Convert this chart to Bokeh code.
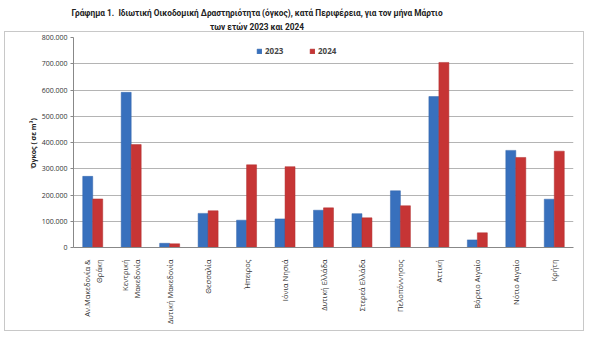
from bokeh.plotting import figure
from bokeh.models import ColumnDataSource, FixedTicker, Legend, LegendItem, Div
from bokeh.layouts import column
from bokeh.transform import dodge
from bokeh.embed import file_html
from bokeh.resources import INLINE
import math

regions = ["Αν.Μακεδονία &\nΘράκη", "Κεντρική\nΜακεδονία", "Δυτική Μακεδονία", "Θεσσαλία",
           "Ήπειρος", "Ιόνια Νησιά", "Δυτική Ελλάδα", "Στερεά Ελλάδα", "Πελοπόννησος",
           "Αττική", "Βόρειο Αιγαίο", "Νότιο Αιγαίο", "Κρήτη"]
v2023 = [271000, 591000, 16000, 130000, 104000, 109000, 142000, 129000, 216000, 575000, 29000, 370000, 184000]
v2024 = [185000, 392000, 14000, 140000, 315000, 308000, 151000, 113000, 159000, 705000, 56000, 343000, 367000]
y_ticks = [0, 100000, 200000, 300000, 400000, 500000, 600000, 700000, 800000]

src = ColumnDataSource(dict(region=regions, a=v2023, b=v2024))

FONT = "Open Sans"

p = figure(x_range=regions, y_range=(0, 800000), width=580, height=300,
           output_backend="svg", toolbar_location=None,
           min_border_left=68, min_border_right=12, min_border_top=5, min_border_bottom=85)
p.margin = (0, 0, 0, 4)
p.styles = {"border": "1px solid #c8c8c8"}

r1 = p.vbar(x=dodge("region", -0.13, range=p.x_range), top="a", width=0.26, source=src,
            fill_color="#3870bd", line_color="#3466ad", line_width=0.5)
r2 = p.vbar(x=dodge("region", 0.13, range=p.x_range), top="b", width=0.26, source=src,
            fill_color="#c63535", line_color="#b03030", line_width=0.5)

p.outline_line_color = None
p.xgrid.grid_line_color = None
p.ygrid.grid_line_color = "#b4b4b4"
p.ygrid.grid_line_width = 1

p.yaxis.ticker = FixedTicker(ticks=y_ticks)
p.yaxis.major_label_overrides = {t: ("0" if t == 0 else f"{t:,}".replace(",", ".")) for t in y_ticks}
p.yaxis.minor_tick_line_color = None
p.yaxis.major_tick_out = 3
p.yaxis.major_tick_in = 0
p.yaxis.axis_line_color = "#888888"
p.yaxis.major_tick_line_color = "#888888"
p.yaxis.major_label_text_font = FONT
p.yaxis.major_label_text_font_size = "7px"
p.yaxis.major_label_text_color = "#333333"
p.yaxis.major_label_standoff = 3
p.yaxis.axis_label = "Όγκος ( σε  m³)"
p.yaxis.axis_label_text_font = FONT
p.yaxis.axis_label_text_font_size = "7px"
p.yaxis.axis_label_text_font_style = "bold"
p.yaxis.axis_label_text_color = "#222222"
p.yaxis.axis_label_standoff = 1

p.xaxis.major_label_orientation = math.pi / 2
p.xaxis.major_label_text_font = FONT
p.xaxis.major_label_text_font_size = "7.5px"
p.xaxis.major_label_text_color = "#333333"
p.xaxis.axis_line_color = "#888888"
p.xaxis.major_tick_line_color = None
p.xaxis.major_label_standoff = 6

legend = Legend(items=[LegendItem(label="2023", renderers=[r1]), LegendItem(label="2024", renderers=[r2])],
                orientation="horizontal", location=(183, 191))
legend.label_text_font = FONT
legend.label_text_font_size = "8px"
legend.label_text_font_style = "bold"
legend.glyph_width = 6
legend.glyph_height = 6
legend.spacing = 24
legend.label_standoff = 3
legend.border_line_color = None
legend.background_fill_alpha = 0
legend.padding = 2
p.add_layout(legend, "center")

title = Div(text="<div style='width:514px;text-align:center;font-family:Roboto;font-weight:bold;font-size:8.3px;line-height:14px;color:#222'>"
                 "Γράφημα 1.&nbsp; Ιδιωτική Οικοδομική Δραστηριότητα (όγκος), κατά Περιφέρεια, για τον μήνα Μάρτιο<br>"
                 "των ετών 2023 και 2024</div>",
            width=584, height=25, margin=(6, 0, 0, 0))

layout = column(title, p, spacing=0)
open("out.html", "w").write(file_html(layout, INLINE))
